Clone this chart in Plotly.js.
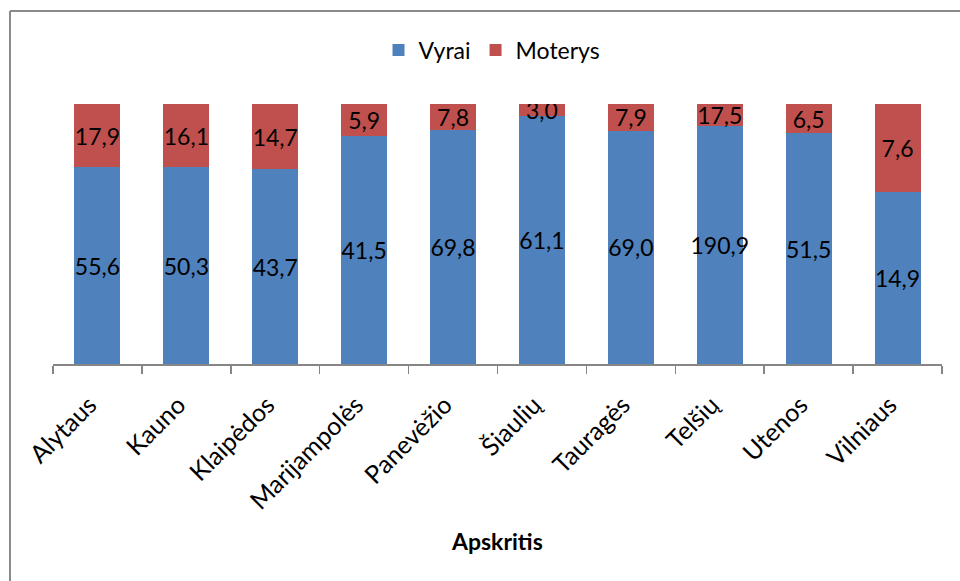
<!DOCTYPE html>
<html>
<head>
<meta charset="utf-8">
<script src="https://cdn.plot.ly/plotly-3.0.1.min.js"></script>
<style>html,body{margin:0;padding:0;background:#fff;}#chart{width:960px;height:581px;}</style>
</head>
<body>
<div id="chart"></div>
<script>
const categories = ["Alytaus","Kauno","Klaipėdos","Marijampolės","Panevėžio","Šiaulių","Tauragės","Telšių","Utenos","Vilniaus"];
const vyrai = [55.6,50.3,43.7,41.5,69.8,61.1,69.0,190.9,51.5,14.9];
const moterys = [17.9,16.1,14.7,5.9,7.8,3.0,7.9,17.5,6.5,7.6];
const seriesNames = ["Vyrai","Moterys"];
const axisTitle = "Apskritis";

const fmt = v => v.toFixed(1).replace('.', ',');
const FONT = "Lato, 'Open Sans', sans-serif";

function trace(name, vals, color){
  return {
    type:'bar', name:name, x:categories, y:vals,
    marker:{color:color},
    text: vals.map(fmt), texttemplate:'%{text}',
    textposition:'inside', insidetextanchor:'middle', constraintext:'none', textangle:0,
    textfont:{family:FONT, size:23, color:'#000'},
    hoverinfo:'skip'
  };
}
const data = [trace(seriesNames[0], vyrai, '#4F81BD'), trace(seriesNames[1], moterys, '#C0504D')];

const L=53, R=942, T=104, B=364;
const pw=R-L, ph=B-T;
const px = x => (x-L)/pw, py = y => (B-y)/ph;

const layout = {
  width:960, height:581,
  margin:{l:L, r:960-R, t:T, b:581-B, pad:0},
  paper_bgcolor:'#fff', plot_bgcolor:'#fff',
  barmode:'stack', barnorm:'percent', bargap:0.483,
  font:{family:FONT, size:22, color:'#000'},
  showlegend:true,
  legend:{orientation:'h', x:px(492), xanchor:'center', y:py(50), yanchor:'middle',
          font:{family:FONT, size:23, color:'#000'}, traceorder:'normal', itemwidth:30},
  xaxis:{type:'category', showline:true, linecolor:'#868686', linewidth:1.5,
         ticks:'outside', tickson:'boundaries', ticklen:8, tickcolor:'#868686', tickwidth:1.5,
         tickangle:-45, ticklabelstandoff:15, ticklabelshift:-8,
         tickfont:{family:FONT, size:25, color:'#000'}, showgrid:false, zeroline:false},
  yaxis:{range:[0,100], visible:false, showgrid:false, zeroline:false},
  annotations:[{text:'<b>'+axisTitle+'</b>', xref:'paper', yref:'paper', x:px(497), y:py(541),
                xanchor:'center', yanchor:'middle', showarrow:false, font:{family:FONT, size:23, color:'#000'}}],
  shapes:[
    {type:'line', xref:'paper', yref:'paper', x0:px(10), x1:px(10), y0:py(11), y1:py(585), line:{color:'#8a8a8a', width:2}},
    {type:'line', xref:'paper', yref:'paper', x0:px(10), x1:px(965), y0:py(11), y1:py(11), line:{color:'#8a8a8a', width:2}}
  ]
};
Plotly.newPlot('chart', data, layout, {displayModeBar:false, staticPlot:true});
</script>
</body>
</html>
